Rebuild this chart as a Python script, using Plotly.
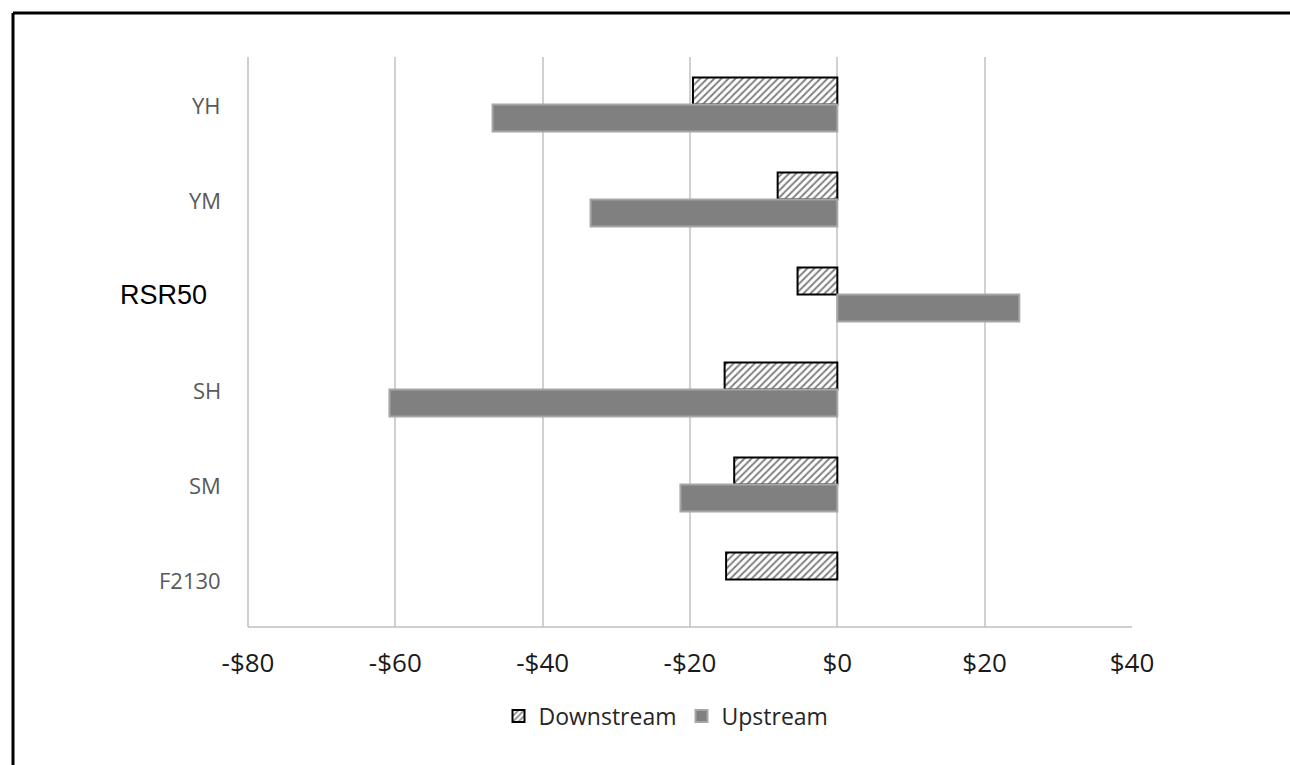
import plotly.graph_objects as go

# Categories, top to bottom
categories = ["YH", "YM", "RSR50", "SH", "SM", "F2130"]
downstream = [-19.6, -8.1, -5.4, -15.3, -14.0, -15.1]
upstream = [-46.8, -33.5, 24.7, -60.8, -21.3, None]

tick_vals = [-80, -60, -40, -20, 0, 20, 40]
tick_text = ["-$80", "-$60", "-$40", "-$20", "$0", "$20", "$40"]

W, H = 1290, 765
L, R, T, B = 248, 158, 57, 138
pw, ph = W - L - R, H - T - B

fig = go.Figure()
fig.add_trace(go.Bar(
    y=categories, x=downstream, orientation="h", name="Downstream",
    marker=dict(color="white", line=dict(color="black", width=2),
                pattern=dict(shape="/", fgcolor="#000000", bgcolor="white",
                             size=5, solidity=0.38)),
))
fig.add_trace(go.Bar(
    y=categories, x=upstream, orientation="h", name="Upstream",
    marker=dict(color="#808080", line=dict(color="#A6A6A6", width=2)),
))

def px_x(p):
    return (p - L) / pw

def px_y(p):
    return (H - B - p) / ph

# outer frame (top and left edges)
fig.add_shape(type="line", xref="paper", yref="paper",
              x0=px_x(13), x1=px_x(W + 5), y0=px_y(13), y1=px_y(13),
              line=dict(color="black", width=3))
fig.add_shape(type="line", xref="paper", yref="paper",
              x0=px_x(13), x1=px_x(13), y0=px_y(13), y1=px_y(H + 5),
              line=dict(color="black", width=3))

# category labels
for c in categories:
    if c == "RSR50":
        fig.add_annotation(x=px_x(209), y=c, xref="paper", yref="y", text=c,
                           showarrow=False, xanchor="right",
                           font=dict(family="Liberation Sans, Arial", size=27, color="black"))
    else:
        fig.add_annotation(x=px_x(223), y=c, xref="paper", yref="y", text=c,
                           showarrow=False, xanchor="right",
                           font=dict(family="Open Sans", size=22, color="#595959"))

fig.update_layout(
    width=W, height=H,
    margin=dict(l=L, r=R, t=T, b=B),
    paper_bgcolor="white", plot_bgcolor="white",
    barmode="group", bargap=0.43, bargroupgap=0,
    showlegend=True,
    legend=dict(orientation="h", x=px_x(666), xanchor="center", y=px_y(716), yanchor="middle",
                font=dict(family="Open Sans", size=23, color="#262626"),
                itemwidth=30, tracegroupgap=0),
    xaxis=dict(range=[-80, 40], tickvals=tick_vals, ticktext=tick_text,
               showgrid=True, gridcolor="#D0D0D0", gridwidth=1.5,
               zeroline=False, showline=False,
               tickfont=dict(family="Open Sans", size=26, color="#1A1A1A"),
               ticks="", ticklabelstandoff=18),
    yaxis=dict(categoryorder="array", categoryarray=categories, autorange="reversed",
               showticklabels=False, showgrid=False, zeroline=False,
               showline=False, ticks=""),
)
# left and bottom edges of the plot area
fig.add_shape(type="line", xref="paper", yref="paper", x0=0, x1=1, y0=0, y1=0,
              line=dict(color="#BFBFBF", width=1.5))
fig.add_shape(type="line", xref="paper", yref="paper", x0=0, x1=0, y0=0, y1=1,
              line=dict(color="#BFBFBF", width=1.5))

fig.write_html("out.html")
